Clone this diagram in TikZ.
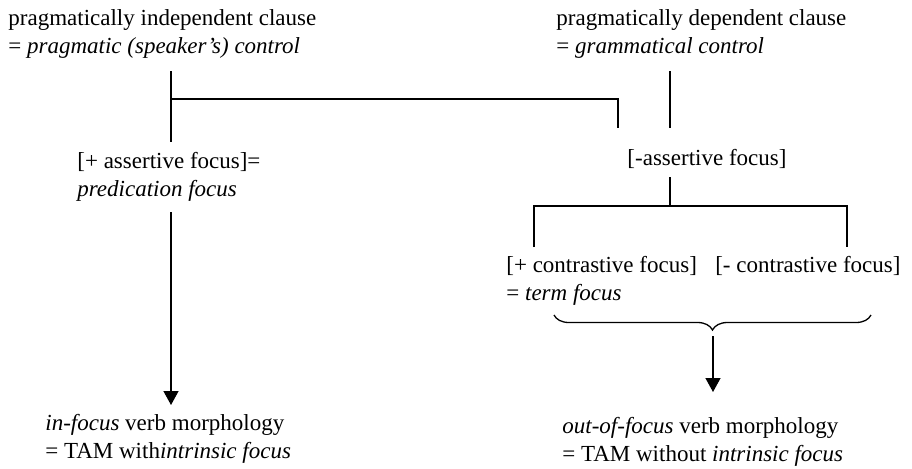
\documentclass[tikz,border=0pt]{standalone}
\usepackage{fontspec}
\setmainfont{Liberation Serif}
\usepackage{tikz}
\usetikzlibrary{arrows.meta, positioning, calc, decorations.pathreplacing}

\begin{document}
\begin{tikzpicture}[
    x=0.5pt, y=-0.5pt,
    label/.style={inner sep=0pt, anchor=base west, align=left, font=\fontsize{11.5}{13.6}\selectfont},
    branch/.style={line width=0.65pt},
    arrow/.style={-{Triangle[width=7.5pt,length=7pt]}, line width=0.65pt}
]
\useasboundingbox (0,0) rectangle (912,468);

% Top clauses (anchored on the last baseline)
\node[label] (indep) at (8,53) {pragmatically independent clause\\= \textit{pragmatic (speaker's) control}};
\node[label] (dep) at (556,53) {pragmatically dependent clause\\= \textit{grammatical control}};

% Focus types
\node[label] (plusassert) at (77,196) {[+ assertive focus]=\\\textit{predication focus}};
\node[label, anchor=base] (minusassert) at (707,165) {[-assertive focus]};
\node[label] (contrast) at (506,300) {[+ contrastive focus]\hspace{0.8em}[- contrastive focus]\\= \textit{term focus}};

% Verb morphology
\node[label] (infocus) at (45,458) {\textit{in-focus} verb morphology\\= TAM with\textit{intrinsic focus}};
\node[label] (outfocus) at (562,461) {\textit{out-of-focus} verb morphology\\= TAM without \textit{intrinsic focus}};

% Branch points
\coordinate (indeptop) at (171,71);
\coordinate (indepbot) at (171,142);
\coordinate (joint) at (171,99);
\coordinate (cross) at (618,128);
\coordinate (deptop) at (670,71);
\coordinate (depbot) at (670,128);
\coordinate (minustop) at (670,177);
\coordinate (minusbar) at (670,206);
\coordinate (plusleg) at (534,247);
\coordinate (minusleg) at (847,247);
\coordinate (predtop) at (171,212);
\coordinate (predtip) at (171,405);
\coordinate (braceL) at (554,315);
\coordinate (braceR) at (871,315);
\coordinate (termtop) at (713,336);
\coordinate (termtip) at (713,392);

\draw[branch] (indeptop) -- (indepbot);
\draw[branch] (joint) -| (cross);
\draw[branch] (deptop) -- (depbot);
\draw[branch] (minustop) -- (minusbar);
\draw[branch] (plusleg) |- (minusbar) -| (minusleg);

\draw[arrow] (predtop) -- (predtip);
\draw[branch, decorate, decoration={brace, mirror, amplitude=7.5pt}] (braceL) -- (braceR);
\draw[arrow] (termtop) -- (termtip);

\end{tikzpicture}
\end{document}
